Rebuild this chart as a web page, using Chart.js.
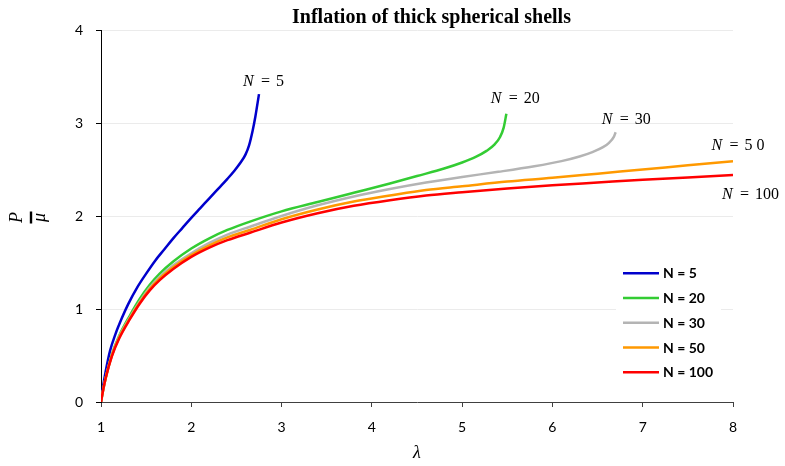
<!DOCTYPE html>
<html>
<head>
<meta charset="utf-8">
<script src="https://cdn.jsdelivr.net/npm/chart.js@4.4.0/dist/chart.umd.min.js"></script>
<style>
html, body { margin: 0; padding: 0; background: #fff; }
#wrap { width: 785px; height: 466px; }
</style>
</head>
<body>
<div id="wrap"><canvas id="chart" width="785" height="466"></canvas></div>
<script>
const chartTitle = "Inflation of thick spherical shells";
const seriesNames = ["N = 5", "N = 20", "N = 30", "N = 50", "N = 100"];
const curveTags = ["5", "20", "30", "5 0", "100"]; // text next to each curve, "N = ..."

// lambda (x) and P/mu (y)
const lam5 = [1, 1.02, 1.05, 1.1, 1.16, 1.23, 1.3, 1.4, 1.5, 1.6, 1.7, 1.8, 1.9, 2.0, 2.1, 2.2, 2.3, 2.4, 2.48, 2.55, 2.6, 2.64, 2.68, 2.71, 2.73, 2.75];
const p5   = [0, 0.15, 0.32, 0.55, 0.73, 0.90, 1.05, 1.23, 1.38, 1.52, 1.64, 1.76, 1.87, 1.98, 2.085, 2.19, 2.295, 2.40, 2.49, 2.58, 2.66, 2.76, 2.92, 3.07, 3.19, 3.31];

const lam20 = [1, 1.02, 1.05, 1.12, 1.2, 1.32, 1.43, 1.54, 1.65, 1.8, 2.0, 2.2, 2.4, 2.65, 3.0, 3.4, 3.8, 4.2, 4.5, 4.8, 5.0, 5.15, 5.27, 5.36, 5.42, 5.46, 5.49];
const p20   = [0, 0.11, 0.25, 0.51, 0.71, 0.93, 1.11, 1.26, 1.38, 1.51, 1.65, 1.76, 1.85, 1.94, 2.05, 2.15, 2.25, 2.35, 2.43, 2.51, 2.575, 2.635, 2.70, 2.77, 2.85, 2.95, 3.10];

const lam30 = [1, 1.02, 1.05, 1.12, 1.2, 1.32, 1.43, 1.54, 1.65, 1.8, 2.0, 2.2, 2.4, 2.65, 3.0, 3.4, 3.8, 4.2, 4.6, 5.0, 5.4, 5.8, 6.1, 6.3, 6.45, 6.56, 6.63, 6.68, 6.70];
const p30   = [0, 0.11, 0.25, 0.50, 0.70, 0.91, 1.08, 1.23, 1.345, 1.47, 1.60, 1.71, 1.80, 1.885, 2.00, 2.115, 2.21, 2.29, 2.36, 2.42, 2.475, 2.535, 2.59, 2.64, 2.69, 2.74, 2.79, 2.85, 2.90];

const lam50 = [1, 1.02, 1.05, 1.12, 1.2, 1.32, 1.43, 1.54, 1.65, 1.8, 2.0, 2.2, 2.4, 2.65, 3.0, 3.4, 3.8, 4.2, 4.6, 5.0, 5.5, 6.0, 6.5, 7.0, 7.5, 8.0];
const p50   = [0, 0.11, 0.25, 0.50, 0.69, 0.90, 1.07, 1.215, 1.33, 1.45, 1.58, 1.685, 1.77, 1.85, 1.965, 2.07, 2.155, 2.22, 2.28, 2.32, 2.37, 2.41, 2.455, 2.50, 2.545, 2.59];

const lam100 = [1, 1.02, 1.05, 1.12, 1.2, 1.32, 1.43, 1.54, 1.65, 1.8, 2.0, 2.2, 2.4, 2.65, 3.0, 3.4, 3.8, 4.2, 4.6, 5.0, 5.5, 6.0, 6.5, 7.0, 7.5, 8.0];
const p100   = [0, 0.11, 0.25, 0.49, 0.68, 0.89, 1.06, 1.20, 1.31, 1.43, 1.56, 1.66, 1.74, 1.82, 1.93, 2.03, 2.11, 2.17, 2.22, 2.255, 2.295, 2.33, 2.36, 2.39, 2.415, 2.44];

const xTicks = [1, 2, 3, 4, 5, 6, 7, 8];
const yTicks = [0, 1, 2, 3, 4];

const colors = ["#0000CC", "#33CC33", "#B4B4B4", "#FF9900", "#FF0000"];
const lams = [lam5, lam20, lam30, lam50, lam100];
const ps = [p5, p20, p30, p50, p100];

// where the "N = .." tags sit (left edge, baseline) in data units
const tagSpots = [[2.572, 3.40], [5.316, 3.215], [6.545, 2.989], [7.763, 2.71], [7.877, 2.183]];

const datasets = seriesNames.map((name, i) => ({
    label: name,
    data: lams[i].map((x, j) => ({x: x, y: ps[i][j]})),
    borderColor: colors[i],
    backgroundColor: colors[i],
    borderWidth: 2.5,
    pointRadius: 0,
    showLine: true,
    fill: false,
    cubicInterpolationMode: "monotone",
    order: seriesNames.length - i   // last series on top
}));

const extras = {
    id: "extras",
    afterDraw(chart) {
        const ctx = chart.ctx;
        const xs = chart.scales.x, ys = chart.scales.y;
        ctx.save();

        // title
        ctx.fillStyle = "#000";
        ctx.font = 'bold 20px "Liberation Serif"';
        ctx.textAlign = "center";
        ctx.textBaseline = "alphabetic";
        ctx.fillText(chartTitle, 431.5, 22.5);

        // y title: P over mu, turned
        ctx.save();
        ctx.translate(31, 217.5);
        ctx.rotate(-Math.PI / 2);
        ctx.font = 'italic 18px "Liberation Serif"';
        ctx.textAlign = "center";
        ctx.fillText("P", 0, -9);
        ctx.fillRect(-6, -1.2, 12, 2.4);
        ctx.fillText("\u03bc", 0, 14);
        ctx.restore();

        // tags next to the curve ends
        ctx.textAlign = "left";
        curveTags.forEach((t, i) => {
            let x = xs.getPixelForValue(tagSpots[i][0]);
            let y = ys.getPixelForValue(tagSpots[i][1]);
            ctx.font = 'italic 16px "Liberation Serif"';
            ctx.fillText("N", x, y);
            ctx.font = '16px "Liberation Serif"';
            ctx.fillText("=", x + 18, y);
            ctx.fillText(t, x + 33, y);
        });

        // legend
        const lx = 623, ly = 273.3, step = 24.75;
        ctx.fillStyle = "#fff";
        ctx.fillRect(616, 258, 105, 128);
        chart.data.datasets.forEach((ds, i) => {
            const y = ly + i * step;
            ctx.strokeStyle = ds.borderColor;
            ctx.lineWidth = 2.5;
            ctx.beginPath();
            ctx.moveTo(lx, y);
            ctx.lineTo(lx + 36, y);
            ctx.stroke();
            ctx.fillStyle = "#000";
            ctx.font = 'bold 14px Lato';
            ctx.textBaseline = "middle";
            ctx.fillText(ds.label, lx + 40, y + 0.5);
        });
        ctx.restore();
    }
};

new Chart(document.getElementById("chart"), {
    type: "scatter",
    data: { datasets: datasets },
    options: {
        responsive: false,
        animation: false,
        layout: { padding: { top: 30, right: 52, bottom: 0, left: 0 } },
        plugins: {
            legend: { display: false },
            title: { display: false },
            tooltip: { enabled: false }
        },
        scales: {
            x: {
                type: "linear",
                min: 1, max: 8,
                afterBuildTicks: s => { s.ticks = xTicks.map(v => ({value: v})); },
                ticks: { color: "#000", font: { family: "Lato", size: 14 }, padding: 12 },
                grid: { drawOnChartArea: false, drawTicks: true, tickLength: 5, tickColor: "#404040" },
                border: { color: "#404040", width: 1 },
                title: { display: true, text: "\u03bb", color: "#000",
                         font: { family: "Liberation Serif", size: 18, style: "italic" },
                         padding: { top: 0, bottom: 2 } },
                afterFit: s => { s.height = 64; }
            },
            y: {
                type: "linear",
                min: 0, max: 4,
                afterBuildTicks: s => { s.ticks = yTicks.map(v => ({value: v})); },
                ticks: { color: "#000", font: { family: "Lato", size: 14 }, padding: 13 },
                grid: { color: "#ebebeb", tickColor: "#000", tickLength: 5 },
                border: { color: "#000", width: 1 },
                afterFit: s => { s.width = 101; }
            }
        }
    },
    plugins: [extras]
});
</script>
</body>
</html>
